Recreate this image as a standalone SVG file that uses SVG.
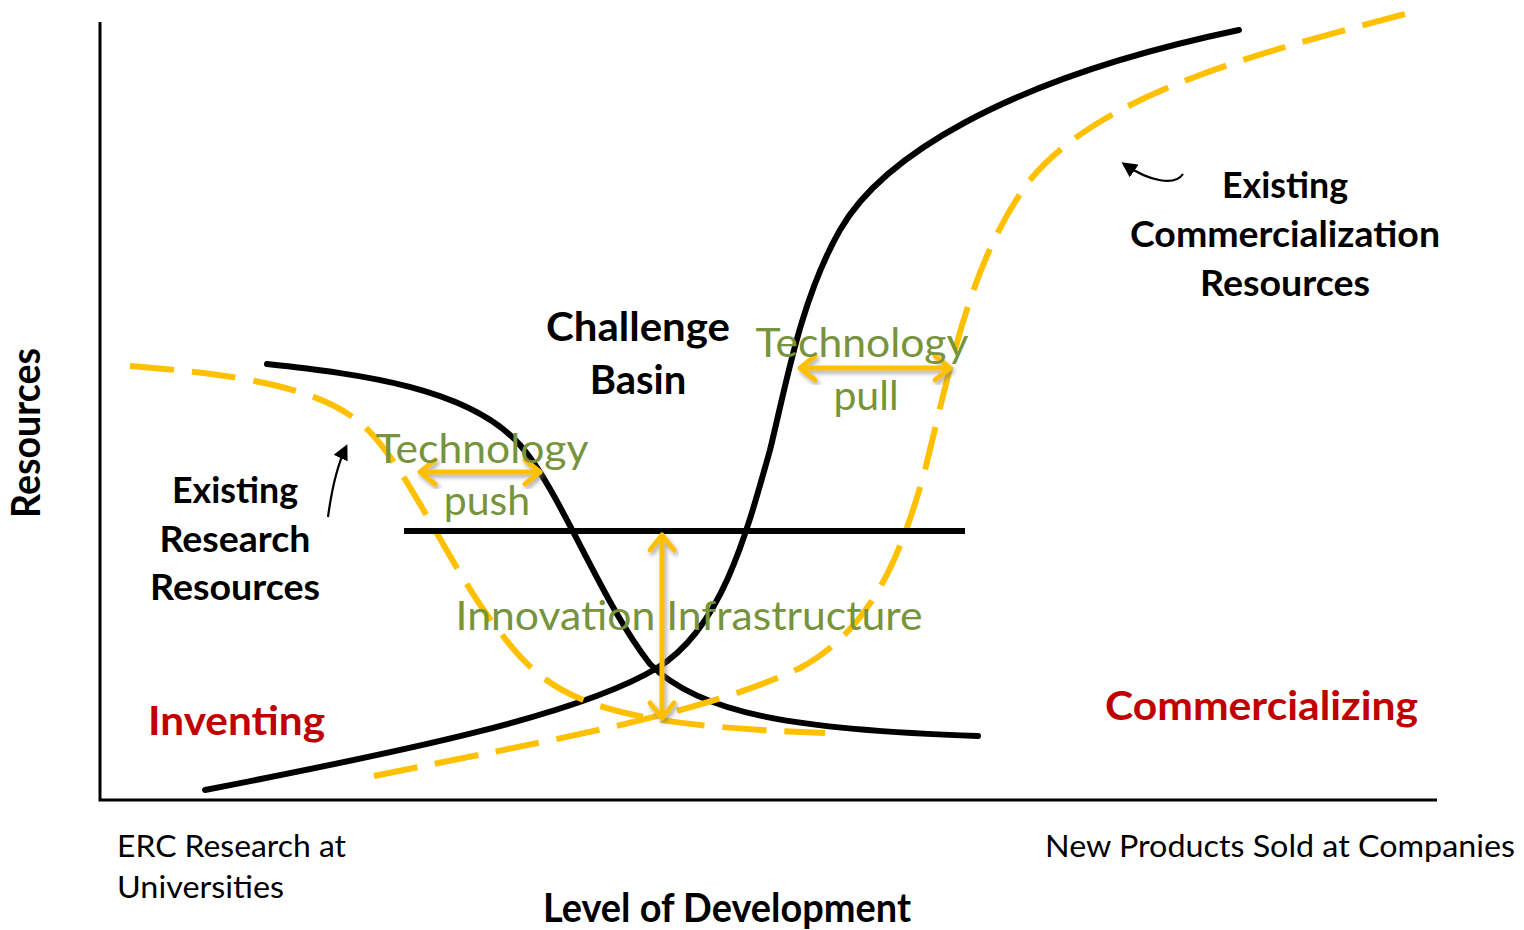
<svg xmlns="http://www.w3.org/2000/svg" width="1524" height="930" viewBox="0 0 1524 930">
<style>
.axis{stroke:#000;stroke-width:3;fill:none}
.curve{stroke:#000;stroke-width:6;fill:none;stroke-linecap:round}
.dash{stroke:#FFC000;stroke-width:6;fill:none;stroke-dasharray:44 18}
.yarrow{stroke:#FFC000;stroke-width:5;fill:none;stroke-linecap:round;stroke-linejoin:round;filter:url(#shadow)}
.pointer{stroke:#000;stroke-width:2.2;fill:none;marker-end:url(#tip)}
text{font-family:Lato,"Open Sans","Liberation Sans",sans-serif}
.lbl{font-weight:bold;font-size:36px;fill:#000;text-anchor:middle}
.big{font-weight:bold;font-size:40px;fill:#000;text-anchor:middle}
.green{font-size:41px;fill:#77933C;text-anchor:middle}
.red{font-weight:bold;font-size:40px;fill:#C00000}
.small{font-size:31px;fill:#000}
</style>
<defs>
<filter id="shadow" x="-20%" y="-20%" width="140%" height="140%">
<feDropShadow dx="2" dy="3" stdDeviation="2" flood-color="#777" flood-opacity="0.6"/>
</filter>
<marker id="tip" viewBox="0 0 10 10" refX="8" refY="5" markerWidth="7" markerHeight="7" orient="auto" markerUnits="strokeWidth">
<path d="M0,0 L10,5 L0,10 z" fill="#000"/>
</marker>
</defs>

<g id="axes">
<path class="axis" d="M100,22 L100,800 L1437,800"/>
</g>

<g id="connectors">
<path id="black-rising" class="curve" d="M205,790 C400,752 580,715 657,668 C720,630 745,540 770,450 C785,390 800,300 840,230 C880,160 1000,80 1239,30"/>
<path id="black-falling" class="curve" d="M267,364 C360,374 470,388 520,445 C560,490 600,600 650,664 C700,715 800,730 978,736"/>
<path id="yellow-falling" class="dash" d="M130,366 C230,374 320,385 365,427 C410,470 450,570 500,632 C550,700 600,725 825,733"/>
<path id="yellow-rising" class="dash" d="M374,776 C550,740 700,715 800,668 C870,630 900,560 925,470 C950,370 970,260 1030,180 C1100,95 1250,55 1405,14"/>
<path id="basin-line" class="curve" style="stroke-linecap:butt" d="M404,531 L965,531"/>
<path id="push-arrow" class="yarrow" d="M420,472 L540,472 M435,460 L420,472 L435,484 M525,460 L540,472 L525,484"/>
<path id="pull-arrow" class="yarrow" d="M800,368 L950,368 M815,356 L800,368 L815,380 M935,356 L950,368 L935,380"/>
<path id="infra-arrow" class="yarrow" d="M662,535 L662,718 M650,550 L662,535 L674,550 M650,703 L662,718 L674,703"/>
<path id="research-pointer" class="pointer" d="M328,517 Q334,472 346,447"/>
<path id="commercial-pointer" class="pointer" d="M1183,174 C1175,186 1150,182 1124,164"/>
</g>

<g id="node-resources-axis">
<text class="big" transform="translate(40,433) rotate(-90)" textLength="170" lengthAdjust="spacingAndGlyphs">Resources</text>
</g>
<g id="node-challenge-basin">
<text class="big" x="638" y="341" textLength="184" lengthAdjust="spacingAndGlyphs">Challenge</text>
<text class="big" x="638" y="394">Basin</text>
</g>
<g id="node-technology-pull">
<text class="green" x="862" y="357" textLength="213" lengthAdjust="spacingAndGlyphs">Technology</text>
<text class="green" x="866" y="410">pull</text>
</g>
<g id="node-technology-push">
<text class="green" x="482" y="463" textLength="213" lengthAdjust="spacingAndGlyphs">Technology</text>
<text class="green" x="487" y="515">push</text>
</g>
<g id="node-innovation-infrastructure">
<text class="green" x="689" y="630" textLength="467" lengthAdjust="spacingAndGlyphs">Innovation Infrastructure</text>
</g>
<g id="node-existing-research">
<text class="lbl" x="235" y="503" textLength="126" lengthAdjust="spacingAndGlyphs">Existing</text>
<text class="lbl" x="235" y="552" textLength="151" lengthAdjust="spacingAndGlyphs">Research</text>
<text class="lbl" x="235" y="600" textLength="170" lengthAdjust="spacingAndGlyphs">Resources</text>
</g>
<g id="node-existing-commercialization">
<text class="lbl" x="1285" y="198" textLength="126" lengthAdjust="spacingAndGlyphs">Existing</text>
<text class="lbl" x="1285" y="247" textLength="310" lengthAdjust="spacingAndGlyphs">Commercialization</text>
<text class="lbl" x="1285" y="296" textLength="170" lengthAdjust="spacingAndGlyphs">Resources</text>
</g>
<g id="node-inventing">
<text class="red" x="148" y="735" textLength="177" lengthAdjust="spacingAndGlyphs">Inventing</text>
</g>
<g id="node-commercializing">
<text class="red" x="1105" y="720" textLength="313" lengthAdjust="spacingAndGlyphs">Commercializing</text>
</g>
<g id="node-erc">
<text class="small" x="117" y="857" textLength="229" lengthAdjust="spacingAndGlyphs">ERC Research at</text>
<text class="small" x="117" y="898" textLength="167" lengthAdjust="spacingAndGlyphs">Universities</text>
</g>
<g id="node-new-products">
<text class="small" x="1045" y="857" textLength="470" lengthAdjust="spacingAndGlyphs">New Products Sold at Companies</text>
</g>
<g id="node-level">
<text class="big" x="727" y="922" textLength="368" lengthAdjust="spacingAndGlyphs">Level of Development</text>
</g>
</svg>
